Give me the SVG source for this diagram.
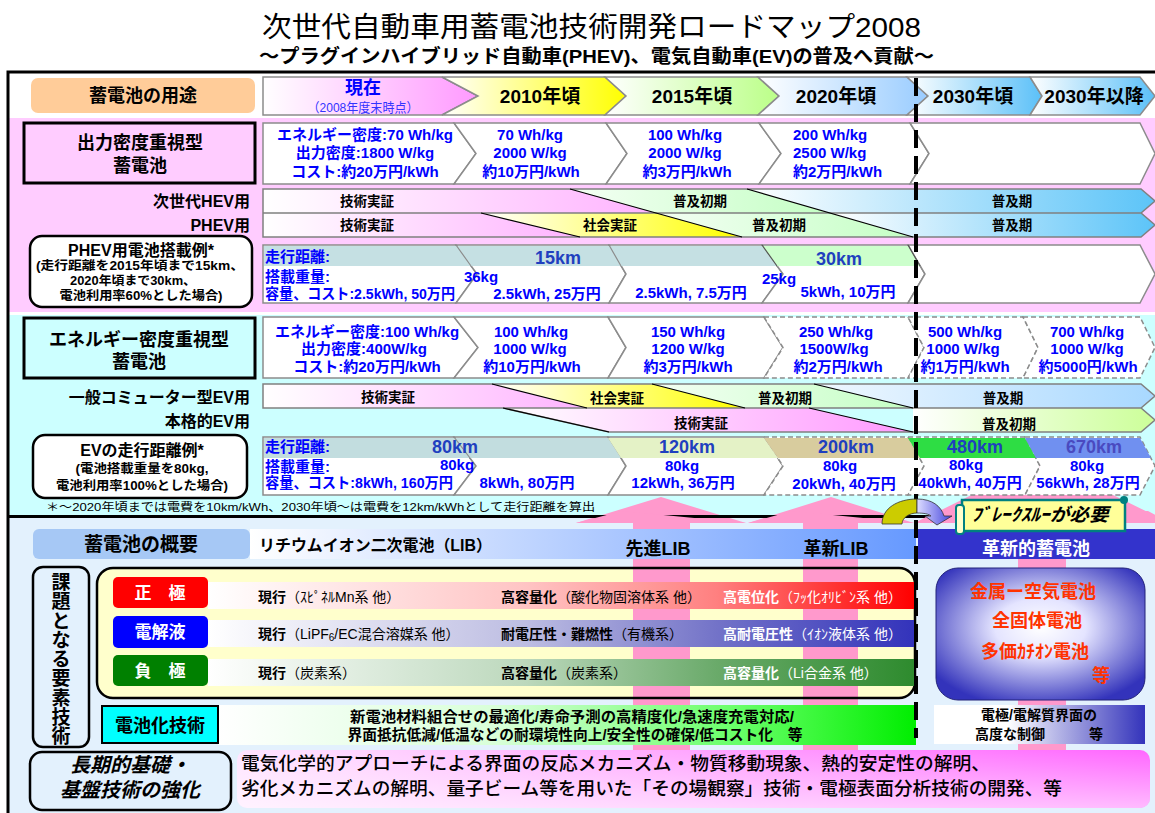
<svg xmlns="http://www.w3.org/2000/svg" width="1155" height="813" viewBox="0 0 1155 813">
<defs>
<style>
text{font-family:"Liberation Sans","Noto Sans CJK JP",sans-serif;fill:#000}
.b{font-weight:bold}
.c{text-anchor:middle}
.e{text-anchor:end}
.sp{font-size:15px;font-weight:bold;fill:#0000FF}
.km{font-size:18px;font-weight:bold;fill:#1F3FBF;text-anchor:middle}
.hdr{font-size:19px;font-weight:bold;text-anchor:middle}
.bar{font-size:13.5px;font-weight:bold;text-anchor:middle}
.lab{font-size:16px;font-weight:bold;text-anchor:end}
.chev{stroke:#8C8C8C;stroke-width:1.5}
.dsh{stroke-dasharray:5 3}
.row{font-size:14px}
.wt{fill:#fff}
.outl{fill:none;stroke:#808080;stroke-width:1.5}
.diag{fill:none;stroke:#000;stroke-width:1.2}
</style>
<linearGradient id="gHP"><stop offset="0" stop-color="#fff"/><stop offset="1" stop-color="#FF99FF"/></linearGradient>
<linearGradient id="gHY"><stop offset="0" stop-color="#fff"/><stop offset="1" stop-color="#FFFF00"/></linearGradient>
<linearGradient id="gHG"><stop offset="0" stop-color="#fff"/><stop offset="1" stop-color="#BBFF88"/></linearGradient>
<linearGradient id="gHB1"><stop offset="0" stop-color="#fff"/><stop offset="1" stop-color="#99CCFF"/></linearGradient>
<linearGradient id="gHB2"><stop offset="0" stop-color="#fff"/><stop offset="1" stop-color="#5BC0F8"/></linearGradient>
<linearGradient id="gPinkBar"><stop offset="0" stop-color="#fff"/><stop offset="1" stop-color="#FFB3FF"/></linearGradient>
<linearGradient id="gPinkBar2"><stop offset="0" stop-color="#fff"/><stop offset="1" stop-color="#FF99FF"/></linearGradient>
<linearGradient id="gYelBar"><stop offset="0" stop-color="#fff"/><stop offset="1" stop-color="#FFFF00"/></linearGradient>
<linearGradient id="gGrnBar"><stop offset="0" stop-color="#F4FFF4"/><stop offset="1" stop-color="#C4FFC4"/></linearGradient>
<linearGradient id="gBluBar"><stop offset="0" stop-color="#fff"/><stop offset="1" stop-color="#5CC4F8"/></linearGradient>
<linearGradient id="gBluBar2"><stop offset="0" stop-color="#F0F8FF"/><stop offset="1" stop-color="#A8D8FF"/></linearGradient>
<linearGradient id="gLime"><stop offset="0" stop-color="#fff"/><stop offset="1" stop-color="#CCFF99"/></linearGradient>
<linearGradient id="gLIB"><stop offset="0" stop-color="#fff"/><stop offset="1" stop-color="#6699FF"/></linearGradient>
<linearGradient id="gRed"><stop offset="0" stop-color="#fff"/><stop offset="0.45" stop-color="#FFC4C4"/><stop offset="0.72" stop-color="#FF8080"/><stop offset="1" stop-color="#FF0000"/></linearGradient>
<linearGradient id="gBlueRow"><stop offset="0" stop-color="#fff"/><stop offset="0.45" stop-color="#BDBDE2"/><stop offset="0.72" stop-color="#7373C8"/><stop offset="1" stop-color="#3333BB"/></linearGradient>
<linearGradient id="gGreenRow"><stop offset="0" stop-color="#fff"/><stop offset="0.45" stop-color="#BCD8BC"/><stop offset="0.72" stop-color="#6AAA6A"/><stop offset="1" stop-color="#2E8B2E"/></linearGradient>
<linearGradient id="gCell"><stop offset="0" stop-color="#fff"/><stop offset="0.4" stop-color="#D8FFD8"/><stop offset="0.75" stop-color="#66FF66"/><stop offset="1" stop-color="#00EE00"/></linearGradient>
<linearGradient id="gInnovBand"><stop offset="0" stop-color="#fff"/><stop offset="0.35" stop-color="#fff"/><stop offset="1" stop-color="#3333BB"/></linearGradient>
<radialGradient id="gRad" cx="0.5" cy="0.45" r="0.62"><stop offset="0" stop-color="#fff"/><stop offset="0.35" stop-color="#E4E4FF"/><stop offset="1" stop-color="#3333BB"/></radialGradient>
<linearGradient id="gLong"><stop offset="0" stop-color="#FFE4FF"/><stop offset="1" stop-color="#FF66FF"/></linearGradient>
<linearGradient id="gLongV" x1="0" y1="0" x2="0" y2="1"><stop offset="0" stop-color="#fff" stop-opacity="0"/><stop offset="1" stop-color="#fff" stop-opacity="0.55"/></linearGradient>
<linearGradient id="gBlueArc"><stop offset="0" stop-color="#DDDDFF"/><stop offset="1" stop-color="#4444DD"/></linearGradient>
</defs>

<rect width="1155" height="813" fill="#fff"/>

<g id="title">
<text x="262" y="37" font-size="28" textLength="659" lengthAdjust="spacingAndGlyphs">次世代自動車用蓄電池技術開発ロードマップ2008</text>
<text x="259" y="63" font-size="19" class="b" textLength="675" lengthAdjust="spacingAndGlyphs">～プラグインハイブリッド自動車(PHEV)、電気自動車(EV)の普及へ貢献～</text>
</g>

<g id="backgrounds">
<rect x="8" y="118" width="1147" height="194" fill="#FFCCFF"/>
<rect x="8" y="315" width="1147" height="201" fill="#CCFFFF"/>
<rect x="8" y="518" width="1147" height="295" fill="#E3F1FD"/>
</g>

<!-- header row -->
<g id="n-youto">
<rect x="31" y="78" width="224" height="35" rx="7" fill="#FFCC99"/>
<text class="b c" x="143" y="102" font-size="18">蓄電池の用途</text>
</g>
<g id="n-timeline">
<polygon class="chev" fill="url(#gHP)" points="263,77 442,77 478,96 442,115 263,115"/>
<polygon class="chev" fill="url(#gHY)" points="442,77 605,77 626,96 605,115 442,115 478,96"/>
<polygon class="chev" fill="url(#gHG)" points="605,77 758,77 779,96 758,115 605,115 626,96"/>
<polygon class="chev" fill="url(#gHB1)" points="758,77 907,77 928,96 907,115 758,115 779,96"/>
<polygon class="chev" fill="url(#gHB2)" points="907,77 1030,77 1042,96 1030,115 907,115 928,96"/>
<polygon class="chev" fill="url(#gHB2)" points="1030,77 1140,77 1155,96 1140,115 1030,115 1042,96"/>
<text class="b c" x="363" y="94" font-size="18" style="fill:#0000FF">現在</text>
<text class="c" x="363" y="112" font-size="13" textLength="111" lengthAdjust="spacingAndGlyphs" style="fill:#3333FF">（2008年度末時点）</text>
<text class="hdr" x="540" y="103">2010年頃</text>
<text class="hdr" x="692" y="103">2015年頃</text>
<text class="hdr" x="836" y="103">2020年頃</text>
<text class="hdr" x="973" y="103">2030年頃</text>
<text class="hdr" x="1094" y="103">2030年以降</text>
</g>

<!-- power density section -->
<g id="n-power">
<rect x="24" y="123" width="231" height="60" fill="#FFCCFF" stroke="#000" stroke-width="3"/>
<text class="b c" x="140" y="149" font-size="18">出力密度重視型</text>
<text class="b c" x="140" y="172" font-size="18">蓄電池</text>
</g>
<g id="n-power-spec">
<polygon class="chev" fill="#fff" points="263,123 454,123 476,153.5 454,184 263,184"/>
<polygon class="chev" fill="#fff" points="454,123 606,123 627,153.5 606,184 454,184 476,153.5"/>
<polygon class="chev" fill="#fff" points="606,123 759,123 781,153.5 759,184 606,184 627,153.5"/>
<polygon class="chev" fill="#fff" points="759,123 910,123 929,153.5 910,184 759,184 781,153.5"/>
<polygon class="chev" fill="#fff" points="910,123 1140,123 1155,153.5 1140,184 910,184 929,153.5"/>
<text class="sp c" x="365" y="140">エネルギー密度:70 Wh/kg</text>
<text class="sp c" x="365" y="158">出力密度:1800 W/kg</text>
<text class="sp c" x="365" y="177">コスト:約20万円/kWh</text>
<text class="sp c" x="530" y="140">70 Wh/kg</text>
<text class="sp c" x="530" y="158">2000 W/kg</text>
<text class="sp c" x="531" y="177">約10万円/kWh</text>
<text class="sp c" x="685" y="140">100 Wh/kg</text>
<text class="sp c" x="685" y="158">2000 W/kg</text>
<text class="sp c" x="687" y="177">約3万円/kWh</text>
<text class="sp" x="793" y="140">200 Wh/kg</text>
<text class="sp" x="793" y="158">2500 W/kg</text>
<text class="sp" x="793" y="177">約2万円/kWh</text>
</g>

<g id="n-hev-phev">
<text class="lab" x="250" y="207">次世代HEV用</text>
<text class="lab" x="250" y="231">PHEV用</text>
<polygon fill="url(#gPinkBar)" points="263,189 570,189 656,213 263,213"/>
<polygon fill="url(#gGrnBar)" points="570,189 747,189 830,213 656,213"/>
<polygon fill="url(#gBluBar)" points="747,189 1141,189 1155,201 1141,213 830,213"/>
<polygon fill="url(#gPinkBar)" points="263,213 481,213 580,237 263,237"/>
<polygon fill="url(#gYelBar)" points="481,213 656,213 742,237 580,237"/>
<polygon fill="url(#gGrnBar)" points="656,213 830,213 913,237 742,237"/>
<polygon fill="url(#gBluBar)" points="830,213 1141,213 1155,225 1141,237 913,237"/>
<path class="outl" d="M263,189 H1141 L1155,201 L1141,213 H263 Z M263,213 H1141 L1155,225 L1141,237 H263 Z"/>
<path class="diag" d="M570,189 L742,237 M747,189 L913,237 M481,213 L580,237"/>
<text class="bar" x="367" y="206">技術実証</text>
<text class="bar" x="700" y="206">普及初期</text>
<text class="bar" x="1012" y="206">普及期</text>
<text class="bar" x="367" y="230">技術実証</text>
<text class="bar" x="610" y="230">社会実証</text>
<text class="bar" x="779" y="230">普及初期</text>
<text class="bar" x="1012" y="230">普及期</text>
</g>

<g id="n-phev-example">
<rect x="30" y="236" width="222" height="71" rx="12" fill="#fff" stroke="#000" stroke-width="2.5"/>
<text class="b c" x="141" y="256" font-size="16">PHEV用電池搭載例*</text>
<text class="b c" x="140" y="270" font-size="12.5" textLength="208" lengthAdjust="spacingAndGlyphs">(走行距離を2015年頃まで15km、</text>
<text class="b c" x="133" y="285" font-size="12.5" textLength="126" lengthAdjust="spacingAndGlyphs">2020年頃まで30km、</text>
<text class="b c" x="141" y="300" font-size="12.5" textLength="163" lengthAdjust="spacingAndGlyphs">電池利用率60%とした場合)</text>
</g>
<g id="n-phev-data">
<polygon class="chev" fill="#fff" points="263,245 456,245 477,274 456,303 263,303"/>
<polygon class="chev" fill="#fff" points="456,245 609,245 626,274 609,303 456,303 477,274"/>
<polygon class="chev" fill="#fff" points="609,245 762,245 783,274 762,303 609,303 626,274"/>
<polygon class="chev" fill="#fff" points="762,245 908,245 925,274 908,303 762,303 783,274"/>
<polygon class="chev" fill="#fff" points="908,245 1140,245 1155,274 1140,303 908,303 925,274"/>
<polygon fill="#C5E0E3" points="264,246 762,246 777,266 264,266"/>
<polygon fill="#CCFFCC" points="762,246 908,246 920,266 777,266"/>
<path class="diag" style="stroke:#8C8C8C" d="M456,245 L471,266 M609,245 L621,266"/>
<path class="diag" style="stroke:#555" d="M762,245 L777,266 M908,245 L920,266"/>
<text class="sp" x="265" y="262">走行距離:</text>
<text class="km" x="558" y="264">15km</text>
<text class="km" x="839" y="265">30km</text>
<text class="sp" x="265" y="282">搭載重量:</text>
<text class="sp c" x="481" y="282">36kg</text>
<text class="sp c" x="779" y="284">25kg</text>
<text class="sp" x="265" y="299" textLength="190" lengthAdjust="spacingAndGlyphs">容量、コスト:2.5kWh, 50万円</text>
<text class="sp c" x="547" y="299">2.5kWh, 25万円</text>
<text class="sp c" x="691" y="298">2.5kWh, 7.5万円</text>
<text class="sp c" x="848" y="297">5kWh, 10万円</text>
</g>

<!-- energy density section -->
<g id="n-energy">
<rect x="24" y="318" width="231" height="60" fill="#CCFFFF" stroke="#000" stroke-width="3"/>
<text class="b c" x="139" y="346" font-size="18">エネルギー密度重視型</text>
<text class="b c" x="139" y="368" font-size="18">蓄電池</text>
</g>
<g id="n-energy-spec">
<polygon class="chev" fill="#fff" points="263,317 454,317 478,347.5 454,378 263,378"/>
<polygon class="chev" fill="#fff" points="454,317 608,317 626,347.5 608,378 454,378 478,347.5"/>
<polygon class="chev" fill="#fff" points="608,317 764,317 783,347.5 764,378 608,378 626,347.5"/>
<polygon class="chev dsh" fill="#fff" points="764,317 908,317 924,347.5 908,378 764,378 783,347.5"/>
<polygon class="chev dsh" fill="#fff" points="908,317 1023,317 1038,347.5 1023,378 908,378 924,347.5"/>
<polygon class="chev dsh" fill="#fff" points="1023,317 1140,317 1155,347.5 1140,378 1023,378 1038,347.5"/>
<text class="sp c" x="367" y="337">エネルギー密度:100 Wh/kg</text>
<text class="sp c" x="364" y="354">出力密度:400W/kg</text>
<text class="sp c" x="367" y="372">コスト:約20万円/kWh</text>
<text class="sp c" x="531" y="337">100 Wh/kg</text>
<text class="sp c" x="530" y="354">1000 W/kg</text>
<text class="sp c" x="532" y="372">約10万円/kWh</text>
<text class="sp c" x="688" y="337">150 Wh/kg</text>
<text class="sp c" x="688" y="354">1200 W/kg</text>
<text class="sp c" x="688" y="372">約3万円/kWh</text>
<text class="sp c" x="836" y="337">250 Wh/kg</text>
<text class="sp c" x="834" y="354">1500W/kg</text>
<text class="sp c" x="838" y="372">約2万円/kWh</text>
<text class="sp c" x="965" y="337">500 Wh/kg</text>
<text class="sp c" x="963" y="354">1000 W/kg</text>
<text class="sp c" x="965" y="372">約1万円/kWh</text>
<text class="sp c" x="1087" y="337">700 Wh/kg</text>
<text class="sp c" x="1087" y="354">1000 W/kg</text>
<text class="sp c" x="1088" y="372">約5000円/kWh</text>
</g>

<g id="n-ev-usage">
<text class="lab" x="250" y="403">一般コミューター型EV用</text>
<text class="lab" x="250" y="427">本格的EV用</text>
<polygon fill="url(#gPinkBar)" points="263,384 492,384 587,408 263,408"/>
<polygon fill="url(#gYelBar)" points="492,384 652,384 745,408 587,408"/>
<polygon fill="url(#gGrnBar)" points="652,384 814,384 913,408 745,408"/>
<polygon fill="url(#gBluBar2)" points="814,384 1141,384 1155,396 1141,408 913,408"/>
<polygon fill="url(#gPinkBar2)" points="503,408 809,408 913,432 609,432"/>
<polygon fill="url(#gLime)" points="913,408 1141,408 1155,420 1141,432 913,432"/>
<path class="outl" d="M263,384 H1141 L1155,396 L1141,408 H263 Z M503,408 H1141 L1155,420 L1141,432 H609 Z"/>
<path class="diag" d="M492,384 L587,408 M652,384 L745,408 M814,384 L913,408 M809,408 L913,432 M503,408 L609,432"/>
<text class="bar" x="388" y="402">技術実証</text>
<text class="bar" x="617" y="403">社会実証</text>
<text class="bar" x="785" y="403">普及初期</text>
<text class="bar" x="1003" y="403">普及期</text>
<text class="bar" x="701" y="428">技術実証</text>
<text class="bar" x="1009" y="429">普及初期</text>
</g>

<g id="n-ev-example">
<rect x="33" y="435" width="214" height="63" rx="12" fill="#fff" stroke="#000" stroke-width="2.5"/>
<text class="b c" x="142" y="456" font-size="16">EVの走行距離例*</text>
<text class="b c" x="142" y="473" font-size="12.5" textLength="133" lengthAdjust="spacingAndGlyphs">(電池搭載重量を80kg,</text>
<text class="b c" x="142" y="490" font-size="12.5" textLength="172" lengthAdjust="spacingAndGlyphs">電池利用率100%とした場合)</text>
</g>

<!-- pink arrows -->
<g id="arrows" fill="#FF99CC">
<polygon points="661,497 746,523 690,523 690,750 633,750 633,523 576,523"/>
<polygon points="831,497 914,523 858,523 858,750 803,750 803,523 748,523"/>
<polygon points="1042,460 1170,523 1066,523 1066,750 1018,750 1018,523 915,523"/>
</g>

<g id="n-ev-data">
<polygon class="chev" fill="#fff" points="263,437 454,437 476,466 454,495 263,495"/>
<polygon class="chev" fill="#fff" points="454,437 608,437 626,466 608,495 454,495 476,466"/>
<polygon class="chev" fill="#fff" points="608,437 764,437 783,466 764,495 608,495 626,466"/>
<polygon class="chev dsh" fill="#fff" points="764,437 908,437 924,466 908,495 764,495 783,466"/>
<polygon class="chev dsh" fill="#fff" points="908,437 1025,437 1040,466 1025,495 908,495 924,466"/>
<polygon class="chev dsh" fill="#fff" points="1025,437 1140,437 1155,466 1140,495 1025,495 1040,466"/>
<polygon fill="#C2DDDF" points="264,438 608,438 621,458 264,458"/>
<polygon fill="#E4F2C6" points="608,438 764,438 778,458 621,458"/>
<polygon fill="#D8CC9E" points="764,438 908,438 920,458 778,458"/>
<polygon fill="#2EDD44" points="908,438 1025,438 1036,458 920,458"/>
<polygon fill="#7090F0" points="1025,438 1140,438 1151,458 1036,458"/>
<path class="diag" style="stroke:#8C8C8C" d="M454,437 L470,458"/>
<text class="sp" x="265" y="452">走行距離:</text>
<text class="km" x="455" y="453">80km</text>
<text class="km" x="687" y="453">120km</text>
<text class="km" x="846" y="453">200km</text>
<text class="km" x="975" y="453">480km</text>
<text class="km" x="1094" y="453" style="fill:#4A4AC0">670km</text>
<text class="sp" x="265" y="472">搭載重量:</text>
<text class="sp c" x="457" y="470">80kg</text>
<text class="sp c" x="682" y="471">80kg</text>
<text class="sp c" x="840" y="471">80kg</text>
<text class="sp c" x="966" y="470">80kg</text>
<text class="sp c" x="1087" y="471">80kg</text>
<text class="sp" x="265" y="488" textLength="188" lengthAdjust="spacingAndGlyphs">容量、コスト:8kWh, 160万円</text>
<text class="sp c" x="527" y="488">8kWh, 80万円</text>
<text class="sp c" x="683" y="488">12kWh, 36万円</text>
<text class="sp c" x="844" y="489">20kWh, 40万円</text>
<text class="sp c" x="970" y="488">40kWh, 40万円</text>
<text class="sp c" x="1088" y="488">56kWh, 28万円</text>
</g>

<g id="footnote">
<text x="46" y="511" font-size="11.5" textLength="549" lengthAdjust="spacingAndGlyphs">＊～2020年頃までは電費を10km/kWh、2030年頃～は電費を12km/kWhとして走行距離を算出</text>
</g>

<g id="frame" fill="none" stroke="#000" stroke-width="3">
<path d="M1155,72 H8 V813"/>
<line x1="8" y1="516.5" x2="1155" y2="516.5"/>
</g>

<!-- arrow heads drawn over the frame line -->
<g id="arrow-heads" fill="#FF99CC">
<polygon points="622,511 746,523 576,523"/>
<polygon points="792,511 914,523 748,523"/>
<polygon points="1148,511 1170,523 915,523 937,511"/>
</g>

<!-- bottom section -->
<g id="n-gaiyou">
<rect x="33" y="529" width="217" height="30" rx="6" fill="#A6C8F5"/>
<text class="b c" x="141" y="551" font-size="19">蓄電池の概要</text>
<rect x="250" y="529" width="666" height="30" fill="url(#gLIB)"/>
<text class="b" x="259" y="551" font-size="16" textLength="233" lengthAdjust="spacingAndGlyphs">リチウムイオン二次電池（LIB）</text>
<text class="b c" x="658" y="555" font-size="18">先進LIB</text>
<text class="b c" x="836" y="555" font-size="18">革新LIB</text>
<rect x="918" y="529" width="237" height="30" fill="#3333CC"/>
<text class="b c wt" x="1036" y="555" font-size="18">革新的蓄電池</text>
</g>

<g id="n-kadai">
<rect x="33" y="567" width="56" height="180" rx="10" fill="#E3F1FD" stroke="#000" stroke-width="2.5"/>
<text class="b c" font-size="19">
<tspan x="61" y="589">課</tspan><tspan x="61" dy="19.25">題</tspan><tspan x="61" dy="19.25">と</tspan><tspan x="61" dy="19.25">な</tspan><tspan x="61" dy="19.25">る</tspan><tspan x="61" dy="19.25">要</tspan><tspan x="61" dy="19.25">素</tspan><tspan x="61" dy="19.25">技</tspan><tspan x="61" dy="19.25">術</tspan>
</text>
</g>

<g id="n-materials">
<rect x="97" y="568" width="818" height="130" rx="16" fill="#FFFFCC"/>
<g fill="#FF99CC">
<rect x="633" y="566" width="57" height="136"/>
<rect x="803" y="566" width="55" height="136"/>
</g>
<rect x="97" y="568" width="818" height="130" rx="16" fill="none" stroke="#000" stroke-width="2.5"/>
<rect x="208" y="582" width="706" height="27" fill="url(#gRed)"/>
<rect x="208" y="620" width="706" height="27" fill="url(#gBlueRow)"/>
<rect x="208" y="659" width="706" height="27" fill="url(#gGreenRow)"/>
<rect x="113" y="577" width="95" height="31" rx="5" fill="#FF0000"/>
<rect x="113" y="616" width="95" height="32" rx="5" fill="#0000FF"/>
<rect x="113" y="655" width="95" height="31" rx="5" fill="#008000"/>
<text class="b c wt" x="160" y="599" font-size="17">正　極</text>
<text class="b c wt" x="160" y="638" font-size="17">電解液</text>
<text class="b c wt" x="160" y="677" font-size="17">負　極</text>
<text class="row" x="258" y="602"><tspan class="b">現行</tspan>（ｽﾋﾟﾈﾙMn系 他）</text>
<text class="row" x="501" y="602"><tspan class="b">高容量化</tspan>（酸化物固溶体系 他）</text>
<text class="row wt" x="723" y="602"><tspan class="b">高電位化</tspan>（ﾌｯ化ｵﾘﾋﾞﾝ系 他）</text>
<text class="row" x="258" y="639"><tspan class="b">現行</tspan>（LiPF<tspan font-size="10" dy="2">6</tspan><tspan dy="-2">/EC混合溶媒系 他）</tspan></text>
<text class="row" x="501" y="639"><tspan class="b">耐電圧性・難燃性</tspan>（有機系）</text>
<text class="row wt" x="723" y="639"><tspan class="b">高耐電圧性</tspan>（ｲｵﾝ液体系 他）</text>
<text class="row" x="258" y="678"><tspan class="b">現行</tspan>（炭素系）</text>
<text class="row" x="501" y="678"><tspan class="b">高容量化</tspan>（炭素系）</text>
<text class="row wt" x="723" y="678"><tspan class="b">高容量化</tspan>（Li合金系 他）</text>
</g>

<g id="n-cell">
<rect x="218" y="705" width="698" height="40" fill="url(#gCell)"/>
<rect x="102" y="706" width="116" height="37" fill="#00FFFF" stroke="#000" stroke-width="2"/>
<text class="b c" x="160" y="732" font-size="18">電池化技術</text>
<text class="b c" x="572" y="722" font-size="14.5" textLength="444" lengthAdjust="spacingAndGlyphs">新電池材料組合せの最適化/寿命予測の高精度化/急速度充電対応/</text>
<text class="b c" x="575" y="740" font-size="14.5" textLength="455" lengthAdjust="spacingAndGlyphs">界面抵抗低減/低温などの耐環境性向上/安全性の確保/低コスト化　等</text>
</g>

<g id="n-innovative">
<rect x="1018" y="559" width="48" height="150" fill="#FF99CC"/>
<rect x="936" y="568" width="209" height="132" rx="22" fill="url(#gRad)" stroke="#22227A" stroke-width="1"/>
<text class="b c" x="1033" y="598" font-size="18" style="fill:#FF3300">金属ー空気電池</text>
<text class="b c" x="1037" y="627" font-size="18" style="fill:#FF3300">全固体電池</text>
<text class="b c" x="1035" y="658" font-size="18" style="fill:#FF3300">多価ｶﾁｵﾝ電池</text>
<text class="b c" x="1101" y="682" font-size="18" style="fill:#FF3300">等</text>
<rect x="934" y="705" width="211" height="39" fill="url(#gInnovBand)"/>
<text class="b c" x="1039" y="720" font-size="14">電極/電解質界面の</text>
<text class="b" x="975" y="739" font-size="14">高度な制御</text>
<text class="b" x="1089" y="739" font-size="14">等</text>
</g>

<g id="n-longterm">
<rect x="30" y="752" width="201" height="58" rx="12" fill="#E3F1FD" stroke="#000" stroke-width="2.5"/>
<text class="b c" x="130" y="772" font-size="20" font-style="italic">長期的基礎・</text>
<text class="b c" x="130" y="797" font-size="20" font-style="italic">基盤技術の強化</text>
<rect x="237" y="750" width="913" height="58" rx="10" fill="url(#gLong)"/>
<rect x="237" y="750" width="913" height="58" rx="10" fill="url(#gLongV)"/>
<text x="241" y="770" font-size="18.5" font-weight="500" textLength="749" lengthAdjust="spacingAndGlyphs">電気化学的アプローチによる界面の反応メカニズム・物質移動現象、熱的安定性の解明、</text>
<text x="241" y="795" font-size="18.5" font-weight="500" textLength="821" lengthAdjust="spacingAndGlyphs">劣化メカニズムの解明、量子ビーム等を用いた「その場観察」技術・電極表面分析技術の開発、等</text>
</g>

<g id="connectors">
<line x1="916" y1="78" x2="916" y2="738" stroke="#000" stroke-width="4" stroke-dasharray="18 8"/>
</g>

<g id="n-breakthrough">
<path d="M882,524 C882,508 898,499 917,499 L917,513 C909,513 902,518 902,524 Z" fill="#CCCC00" stroke="#333" stroke-width="0.8"/>
<path d="M917,499 C932,499 941,506 944,516 L952,516 L937,525 L925,516 L931,516 C929,514 924,513 917,513 Z" fill="url(#gBlueArc)" stroke="#333" stroke-width="0.8"/>
<rect x="962" y="500" width="163" height="31" fill="#FFFF99" stroke="#008080" stroke-width="2.5"/>
<rect x="956" y="505" width="8" height="29" rx="3" fill="#FFFFCC" stroke="#008080" stroke-width="2"/>
<circle cx="1124" cy="500" r="4" fill="#008080"/>
<text class="b c" x="1040" y="521" font-size="18" font-style="italic" textLength="137" lengthAdjust="spacingAndGlyphs">ﾌﾞﾚｰｸｽﾙｰが必要</text>
</g>
</svg>
